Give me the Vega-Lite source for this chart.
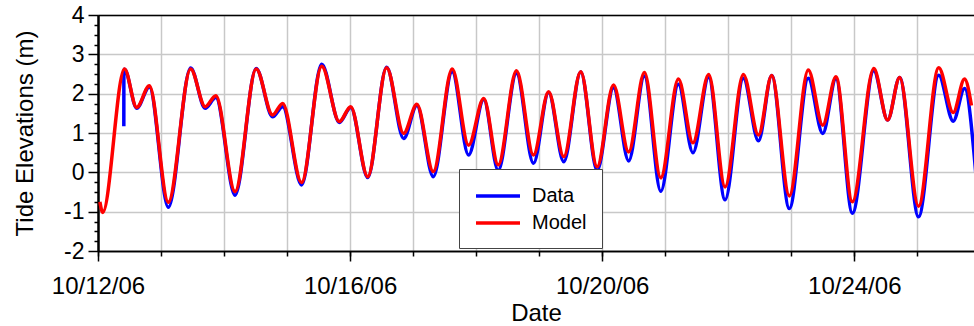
{
  "$schema": "https://vega.github.io/schema/vega-lite/v6.json",
  "width": 876,
  "height": 236,
  "autosize": {"type": "none"},
  "padding": {"left": 98, "top": 15, "right": 0, "bottom": 75},
  "background": "white",
  "config": {
    "view": {"stroke": null},
    "font": "Liberation Sans",
    "axis": {
      "labelFont": "Liberation Sans",
      "titleFont": "Liberation Sans",
      "labelColor": "black",
      "titleColor": "black",
      "titleFontWeight": "normal",
      "domainColor": "black",
      "tickColor": "black",
      "gridColor": "#c8c8c8",
      "gridWidth": 1.5
    },
    "legend": {
      "labelFont": "Liberation Sans"
    }
  },
  "datasets": {
    "tide": [
      {"t": "2006-10-12T09:50", "v": 1.17, "s": "Data"},
      {"t": "2006-10-12T09:51", "v": 2.45, "s": "Data"},
      {"t": "2006-10-12T10:05", "v": 2.62, "s": "Data"},
      {"t": "2006-10-12T14:44", "v": 1.63, "s": "Data"},
      {"t": "2006-10-12T19:34", "v": 2.17, "s": "Data"},
      {"t": "2006-10-13T02:47", "v": -0.89, "s": "Data"},
      {"t": "2006-10-13T11:17", "v": 2.65, "s": "Data"},
      {"t": "2006-10-13T16:48", "v": 1.63, "s": "Data"},
      {"t": "2006-10-13T20:53", "v": 1.9, "s": "Data"},
      {"t": "2006-10-14T04:12", "v": -0.58, "s": "Data"},
      {"t": "2006-10-14T12:14", "v": 2.64, "s": "Data"},
      {"t": "2006-10-14T18:29", "v": 1.41, "s": "Data"},
      {"t": "2006-10-14T22:19", "v": 1.67, "s": "Data"},
      {"t": "2006-10-15T05:31", "v": -0.32, "s": "Data"},
      {"t": "2006-10-15T13:12", "v": 2.75, "s": "Data"},
      {"t": "2006-10-15T19:55", "v": 1.27, "s": "Data"},
      {"t": "2006-10-16T00:14", "v": 1.65, "s": "Data"},
      {"t": "2006-10-16T06:43", "v": -0.13, "s": "Data"},
      {"t": "2006-10-16T13:55", "v": 2.67, "s": "Data"},
      {"t": "2006-10-16T20:24", "v": 0.86, "s": "Data"},
      {"t": "2006-10-17T01:26", "v": 1.7, "s": "Data"},
      {"t": "2006-10-17T07:41", "v": -0.11, "s": "Data"},
      {"t": "2006-10-17T14:53", "v": 2.56, "s": "Data"},
      {"t": "2006-10-17T21:07", "v": 0.44, "s": "Data"},
      {"t": "2006-10-18T02:53", "v": 1.85, "s": "Data"},
      {"t": "2006-10-18T08:24", "v": 0.05, "s": "Data"},
      {"t": "2006-10-18T15:22", "v": 2.52, "s": "Data"},
      {"t": "2006-10-18T21:50", "v": 0.23, "s": "Data"},
      {"t": "2006-10-19T03:36", "v": 2.03, "s": "Data"},
      {"t": "2006-10-19T09:22", "v": 0.27, "s": "Data"},
      {"t": "2006-10-19T15:50", "v": 2.55, "s": "Data"},
      {"t": "2006-10-19T22:05", "v": 0.05, "s": "Data"},
      {"t": "2006-10-20T04:19", "v": 2.15, "s": "Data"},
      {"t": "2006-10-20T10:05", "v": 0.29, "s": "Data"},
      {"t": "2006-10-20T16:05", "v": 2.45, "s": "Data"},
      {"t": "2006-10-20T22:19", "v": -0.48, "s": "Data"},
      {"t": "2006-10-21T05:02", "v": 2.24, "s": "Data"},
      {"t": "2006-10-21T10:34", "v": 0.5, "s": "Data"},
      {"t": "2006-10-21T16:34", "v": 2.42, "s": "Data"},
      {"t": "2006-10-21T22:48", "v": -0.7, "s": "Data"},
      {"t": "2006-10-22T05:46", "v": 2.39, "s": "Data"},
      {"t": "2006-10-22T11:31", "v": 0.8, "s": "Data"},
      {"t": "2006-10-22T16:34", "v": 2.46, "s": "Data"},
      {"t": "2006-10-22T23:17", "v": -0.92, "s": "Data"},
      {"t": "2006-10-23T06:29", "v": 2.39, "s": "Data"},
      {"t": "2006-10-23T12:00", "v": 0.99, "s": "Data"},
      {"t": "2006-10-23T17:02", "v": 2.38, "s": "Data"},
      {"t": "2006-10-23T23:17", "v": -1.04, "s": "Data"},
      {"t": "2006-10-24T07:26", "v": 2.58, "s": "Data"},
      {"t": "2006-10-24T12:43", "v": 1.33, "s": "Data"},
      {"t": "2006-10-24T17:17", "v": 2.41, "s": "Data"},
      {"t": "2006-10-25T00:29", "v": -1.13, "s": "Data"},
      {"t": "2006-10-25T08:10", "v": 2.47, "s": "Data"},
      {"t": "2006-10-25T13:41", "v": 1.3, "s": "Data"},
      {"t": "2006-10-25T18:00", "v": 2.13, "s": "Data"},
      {"t": "2006-10-25T22:19", "v": -0.05, "s": "Data"},
      {"t": "2006-10-12T00:43", "v": -0.75, "s": "Model"},
      {"t": "2006-10-12T01:48", "v": -1.02, "s": "Model"},
      {"t": "2006-10-12T10:05", "v": 2.63, "s": "Model"},
      {"t": "2006-10-12T14:44", "v": 1.65, "s": "Model"},
      {"t": "2006-10-12T19:34", "v": 2.2, "s": "Model"},
      {"t": "2006-10-13T02:47", "v": -0.76, "s": "Model"},
      {"t": "2006-10-13T11:17", "v": 2.63, "s": "Model"},
      {"t": "2006-10-13T16:48", "v": 1.67, "s": "Model"},
      {"t": "2006-10-13T20:53", "v": 1.95, "s": "Model"},
      {"t": "2006-10-14T04:12", "v": -0.49, "s": "Model"},
      {"t": "2006-10-14T12:14", "v": 2.63, "s": "Model"},
      {"t": "2006-10-14T18:29", "v": 1.46, "s": "Model"},
      {"t": "2006-10-14T22:19", "v": 1.75, "s": "Model"},
      {"t": "2006-10-15T05:31", "v": -0.26, "s": "Model"},
      {"t": "2006-10-15T13:12", "v": 2.7, "s": "Model"},
      {"t": "2006-10-15T19:55", "v": 1.29, "s": "Model"},
      {"t": "2006-10-16T00:14", "v": 1.67, "s": "Model"},
      {"t": "2006-10-16T06:43", "v": -0.11, "s": "Model"},
      {"t": "2006-10-16T13:55", "v": 2.66, "s": "Model"},
      {"t": "2006-10-16T20:24", "v": 0.99, "s": "Model"},
      {"t": "2006-10-17T01:26", "v": 1.73, "s": "Model"},
      {"t": "2006-10-17T07:41", "v": 0.02, "s": "Model"},
      {"t": "2006-10-17T14:53", "v": 2.63, "s": "Model"},
      {"t": "2006-10-17T21:07", "v": 0.69, "s": "Model"},
      {"t": "2006-10-18T02:53", "v": 1.88, "s": "Model"},
      {"t": "2006-10-18T08:24", "v": 0.19, "s": "Model"},
      {"t": "2006-10-18T15:22", "v": 2.58, "s": "Model"},
      {"t": "2006-10-18T21:50", "v": 0.44, "s": "Model"},
      {"t": "2006-10-19T03:36", "v": 2.05, "s": "Model"},
      {"t": "2006-10-19T09:22", "v": 0.4, "s": "Model"},
      {"t": "2006-10-19T15:50", "v": 2.56, "s": "Model"},
      {"t": "2006-10-19T22:05", "v": 0.14, "s": "Model"},
      {"t": "2006-10-20T04:19", "v": 2.22, "s": "Model"},
      {"t": "2006-10-20T10:05", "v": 0.52, "s": "Model"},
      {"t": "2006-10-20T16:05", "v": 2.54, "s": "Model"},
      {"t": "2006-10-20T22:19", "v": -0.14, "s": "Model"},
      {"t": "2006-10-21T05:02", "v": 2.37, "s": "Model"},
      {"t": "2006-10-21T10:34", "v": 0.75, "s": "Model"},
      {"t": "2006-10-21T16:34", "v": 2.49, "s": "Model"},
      {"t": "2006-10-21T22:48", "v": -0.37, "s": "Model"},
      {"t": "2006-10-22T05:46", "v": 2.49, "s": "Model"},
      {"t": "2006-10-22T11:31", "v": 0.95, "s": "Model"},
      {"t": "2006-10-22T16:34", "v": 2.46, "s": "Model"},
      {"t": "2006-10-22T23:17", "v": -0.6, "s": "Model"},
      {"t": "2006-10-23T06:29", "v": 2.6, "s": "Model"},
      {"t": "2006-10-23T12:00", "v": 1.2, "s": "Model"},
      {"t": "2006-10-23T17:02", "v": 2.43, "s": "Model"},
      {"t": "2006-10-23T23:17", "v": -0.75, "s": "Model"},
      {"t": "2006-10-24T07:26", "v": 2.64, "s": "Model"},
      {"t": "2006-10-24T12:43", "v": 1.33, "s": "Model"},
      {"t": "2006-10-24T17:17", "v": 2.41, "s": "Model"},
      {"t": "2006-10-25T00:29", "v": -0.86, "s": "Model"},
      {"t": "2006-10-25T08:10", "v": 2.66, "s": "Model"},
      {"t": "2006-10-25T13:41", "v": 1.52, "s": "Model"},
      {"t": "2006-10-25T18:00", "v": 2.37, "s": "Model"},
      {"t": "2006-10-25T20:38", "v": 1.7, "s": "Model"}
    ]
  },
  "data": {"name": "tide"},
  "resolve": {"axis": {"x": "independent", "y": "independent"}},
  "layer": [
    {
      "mark": {"type": "line", "interpolate": "monotone", "strokeWidth": 3.5, "clip": true},
      "encoding": {
        "x": {
          "field": "t", "type": "temporal",
          "scale": {"domain": [{"year": 2006, "month": 10, "date": 12}, {"year": 2006, "month": 10, "date": 25, "hours": 21, "minutes": 36}]},
          "axis": {
            "orient": "bottom",
            "values": [
              {"year": 2006, "month": 10, "date": 12}, {"year": 2006, "month": 10, "date": 13},
              {"year": 2006, "month": 10, "date": 14}, {"year": 2006, "month": 10, "date": 15},
              {"year": 2006, "month": 10, "date": 16}, {"year": 2006, "month": 10, "date": 17},
              {"year": 2006, "month": 10, "date": 18}, {"year": 2006, "month": 10, "date": 19},
              {"year": 2006, "month": 10, "date": 20}, {"year": 2006, "month": 10, "date": 21},
              {"year": 2006, "month": 10, "date": 22}, {"year": 2006, "month": 10, "date": 23},
              {"year": 2006, "month": 10, "date": 24}, {"year": 2006, "month": 10, "date": 25}
            ],
            "labels": false, "tickSize": 5, "tickWidth": 1.5, "grid": true, "title": null,
            "domainWidth": 1.5
          }
        },
        "y": {
          "field": "v", "type": "quantitative",
          "scale": {"domain": [-2, 4], "nice": false, "zero": false},
          "axis": {
            "orient": "left",
            "values": [-2, -1, 0, 1, 2, 3, 4],
            "labelExpr": "'' + datum.value",
            "grid": true, "tickSize": 10, "tickWidth": 1.5, "domainWidth": 2,
            "labelFontSize": 23, "labelPadding": 4,
            "title": "Tide Elevations (m)", "titleFontSize": 24, "titlePadding": 26
          }
        },
        "color": {
          "field": "s", "type": "nominal",
          "scale": {"domain": ["Data", "Model"], "range": ["#0000ff", "#ff0000"]},
          "legend": {
            "title": null,
            "orient": "none",
            "legendX": 361,
            "legendY": 154,
            "padding": 15,
            "fillColor": "white",
            "strokeColor": "#444444",
            "labelFontSize": 20,
            "labelColor": "black",
            "symbolType": "M-1,0H3.4",
            "symbolSize": 400,
            "symbolStrokeWidth": 3.5,
            "labelOffset": 34,
            "rowPadding": 5
          }
        }
      }
    },
    {
      "mark": {"type": "point", "opacity": 0},
      "encoding": {
        "x": {
          "field": "t", "type": "temporal",
          "axis": {
            "orient": "bottom",
            "values": [
              {"year": 2006, "month": 10, "date": 12}, {"year": 2006, "month": 10, "date": 16},
              {"year": 2006, "month": 10, "date": 20}, {"year": 2006, "month": 10, "date": 24}
            ],
            "format": "%m/%d/%y",
            "labelAlign": "center",
            "labelFlush": false,
            "labelOverlap": false,
            "grid": false, "tickSize": 10, "tickWidth": 1.5, "domainWidth": 1.5,
            "labelFontSize": 24, "labelPadding": 13,
            "title": "Date", "titleFontSize": 24, "titlePadding": 3
          }
        },
        "y": {
          "field": "v", "type": "quantitative",
          "axis": {
            "orient": "left",
            "values": [-1.75, -1.5, -1.25, -0.75, -0.5, -0.25, 0.25, 0.5, 0.75, 1.25, 1.5, 1.75, 2.25, 2.5, 2.75, 3.25, 3.5, 3.75],
            "grid": false, "labels": false, "tickSize": 4, "tickWidth": 1.5, "domainWidth": 2, "title": null
          }
        }
      }
    },
    {
      "mark": {"type": "point", "opacity": 0},
      "encoding": {
        "x": {
          "field": "t", "type": "temporal",
          "axis": {"orient": "top", "labels": false, "ticks": false, "grid": false, "title": null, "domainWidth": 1.5}
        }
      }
    }
  ]
}
